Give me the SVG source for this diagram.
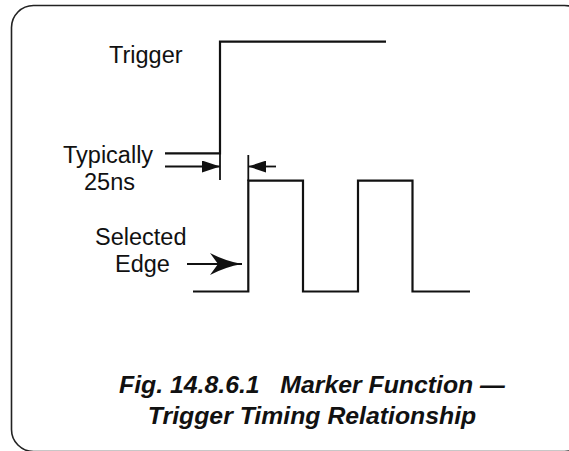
<svg xmlns="http://www.w3.org/2000/svg" width="569" height="451" viewBox="0 0 569 451">
<style>
.lbl{font-family:"Liberation Sans",Arial,sans-serif;font-size:23.5px;fill:#111}
.title{font-family:"Liberation Sans",Arial,sans-serif;font-size:24.8px;font-weight:bold;font-style:italic;fill:#111;text-anchor:middle;white-space:pre}
.wave{fill:none;stroke:#111;stroke-width:2.2;stroke-linejoin:miter}
.thin{fill:none;stroke:#111;stroke-width:1.8}
.border{fill:none;stroke:#222;stroke-width:1.6}
</style>
<defs>
<marker id="tri" viewBox="0 0 18 12" refX="18" refY="6" markerWidth="18" markerHeight="12" markerUnits="userSpaceOnUse" orient="auto">
<path d="M0,0 L18,6 L0,12 Z" fill="#111"/>
</marker>
<marker id="barb" viewBox="0 0 32 22" refX="32" refY="11" markerWidth="32" markerHeight="22" markerUnits="userSpaceOnUse" orient="auto">
<path d="M0,0 Q15,8 32,11 Q15,14 0,22 L8,11 Z" fill="#111"/>
</marker>
</defs>
<rect id="frame" class="border" x="11.5" y="5.5" width="575" height="446" rx="22" ry="22"/>
<g id="trigger">
<path class="wave" d="M165,153.3 H220 V41.7 H386"/>
<text class="lbl" x="109" y="63">Trigger</text>
</g>
<g id="selected-signal">
<path class="wave" d="M193,291.5 H248.3 V180.7 H303 V291.5 H358 V180.7 H412.5 V291.5 H470"/>
</g>
<g id="typically-label">
<text class="lbl" x="63" y="163">Typically</text>
<text class="lbl" x="84" y="190">25ns</text>
</g>
<g id="selected-edge-label">
<text class="lbl" x="95" y="245">Selected</text>
<text class="lbl" x="115" y="272">Edge</text>
</g>
<g id="connectors">
<line class="thin" x1="220" y1="150" x2="220" y2="180"/>
<line class="thin" x1="248.3" y1="155" x2="248.3" y2="181"/>
<line class="thin" x1="165" y1="166.5" x2="220" y2="166.5" marker-end="url(#tri)"/>
<line class="thin" x1="276" y1="166.5" x2="248.3" y2="166.5" marker-end="url(#tri)"/>
<line class="thin" x1="187" y1="264" x2="242" y2="264" marker-end="url(#barb)"/>
</g>
<g id="caption">
<text class="title" x="312" y="393" xml:space="preserve">Fig. 14.8.6.1   Marker Function —</text>
<text class="title" x="312" y="424">Trigger Timing Relationship</text>
</g>
</svg>
